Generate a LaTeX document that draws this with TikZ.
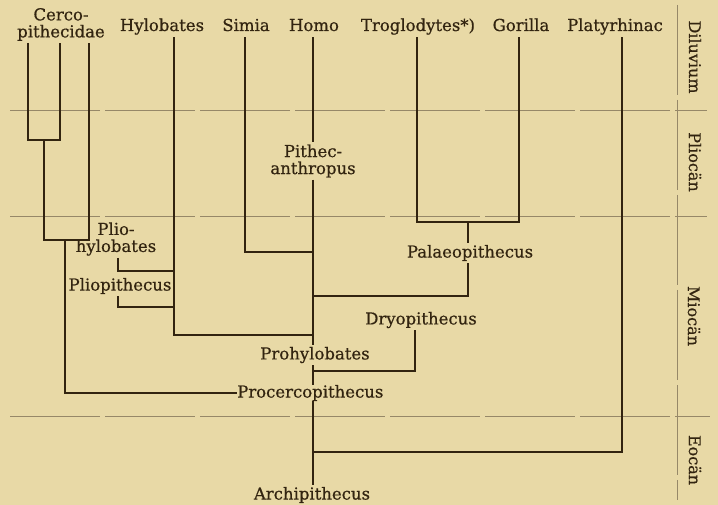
\documentclass[tikz,border=0pt]{standalone}
\usepackage{fontspec}
\setmainfont{DejaVu Serif}
\newfontfamily\oldface{DejaVu Serif}[FakeBold=0.6]
\usepackage{xcolor}
\usepackage{tikz}
\usetikzlibrary{positioning, calc}
\definecolor{paper}{RGB}{232, 217, 166}
\definecolor{ink}{RGB}{50, 36, 16}
\definecolor{faint}{RGB}{150, 136, 104}

\begin{document}
\begin{tikzpicture}[x=1pt, y=-1pt,
    taxon/.style={text=ink, font=\oldface\fontsize{16.5}{17}\selectfont, inner sep=2pt, align=center},
    toplabel/.style={taxon, anchor=base, text height=12pt, text depth=4pt},
    era/.style={text=ink, font=\oldface\fontsize{16}{17}\selectfont, rotate=-90},
    branch/.style={draw=ink, line width=2.6pt},
    epochline/.style={draw=faint, line width=0.8pt, dash pattern=on 90pt off 5pt}]

    % Background
    \fill[paper] (0,0) rectangle (718,505);
    \useasboundingbox (0,0) rectangle (718,505);

    % Epochs
    \draw[epochline] (10,110) -- (707,110);
    \draw[epochline] (10,216) -- (707,216);
    \draw[epochline] (10,416) -- (710,416);
    \draw[epochline] (677,5) -- (677,500);
    \node[era] (dil) at (695,57) {Diluvium};
    \node[era] (plio) at (695,162) {Pliocän};
    \node[era] (mio) at (694,316) {Miocän};
    \node[era] (eoc) at (695,460) {Eocän};

    % Living groups
    \node[taxon, anchor=south] (cerco) at (61,43) {Cerco-\\pithecidae};
    \node[toplabel] (hylo) at (162,31) {Hylobates};
    \node[toplabel] (simia) at (246,31) {Simia};
    \node[toplabel] (homo) at (314,31) {Homo};
    \node[toplabel] (troglo) at (418,31) {Troglodytes*)};
    \node[toplabel] (gorilla) at (521,31) {Gorilla};
    \node[toplabel] (platy) at (615,31) {Platyrhinac};

    % Fossil forms
    \node[taxon] (pithec) at (313,161) {Pithec-\\anthropus};
    \node[taxon] (plioh) at (116,239) {Plio-\\hylobates};
    \node[taxon] (pliop) at (120,286) {Pliopithecus};
    \node[taxon] (palaeo) at (470,253) {Palaeopithecus};
    \node[taxon] (dryo) at (421,320) {Dryopithecus};
    \node[taxon] (prohylo) at (315,355) {Prohylobates};
    \node[taxon, anchor=west, inner sep=0pt] (procerco) at (237,393) {Procercopithecus};
    \node[taxon] (archi) at (312,495) {Archipithecus};

    % Branch points
    \coordinate (trunk) at (313,0);
    \coordinate (c1) at (28,140);
    \coordinate (c2) at (60,140);
    \coordinate (c3) at (44,140);
    \coordinate (c4) at (44,240);
    \coordinate (c5) at (89,240);
    \coordinate (c6) at (65,240);
    \coordinate (c7) at (65,393);
    \coordinate (h1) at (174,335);
    \coordinate (ph) at (118,271);
    \coordinate (pp) at (118,307);
    \coordinate (s1) at (245,252);
    \coordinate (t1) at (417,222);
    \coordinate (g1) at (519,222);
    \coordinate (pa) at (468,222);
    \coordinate (pa2) at (468,296);
    \coordinate (d1) at (415,371);
    \coordinate (p1) at (622,452);

    % Cercopithecidae
    \draw[branch] (cerco.south -| c1) -- (c1) -- (c2) -- (cerco.south -| c2);
    \draw[branch] (c3) -- (c4) -- (c5) -- (cerco.south -| c5);
    \draw[branch] (c6) -- (c7) -- (procerco.west);

    % Hylobates
    \draw[branch] (hylo.south -| h1) -- (h1) -- (h1 -| trunk);
    \draw[branch] (plioh.south -| ph) -- (ph) -- (ph -| h1);
    \draw[branch] (pliop.south -| pp) -- (pp) -- (pp -| h1);

    % Simia
    \draw[branch] (simia.south -| s1) -- (s1) -- (s1 -| trunk);

    % Homo
    \draw[branch] (homo.south -| trunk) -- (pithec.north -| trunk);
    \draw[branch] (pithec.south -| trunk) -- (prohylo.north -| trunk);
    \draw[branch] (prohylo.south -| trunk) -- (procerco.north -| trunk);
    \draw[branch] (procerco.south -| trunk) -- (archi.north -| trunk);

    % Troglodytes and Gorilla
    \draw[branch] (troglo.south -| t1) -- (t1) -- (g1) -- (gorilla.south -| g1);
    \draw[branch] (pa) -- (palaeo.north -| pa);
    \draw[branch] (palaeo.south -| pa2) -- (pa2) -- (pa2 -| trunk);

    % Dryopithecus
    \draw[branch] (dryo.south -| d1) -- (d1) -- (d1 -| trunk);

    % Platyrhinac
    \draw[branch] (platy.south -| p1) -- (p1) -- (p1 -| trunk);
\end{tikzpicture}
\end{document}
